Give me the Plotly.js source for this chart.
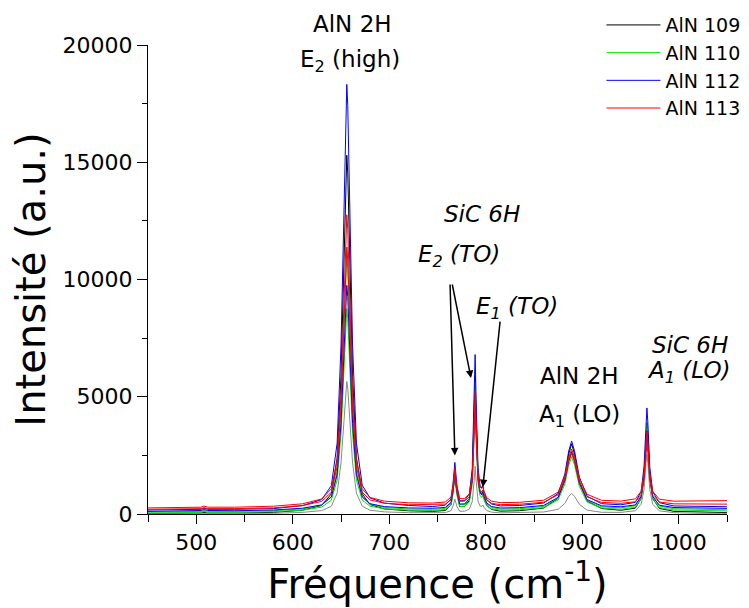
<!DOCTYPE html>
<html><head><meta charset="utf-8">
<script src="https://cdn.plot.ly/plotly-3.0.1.min.js"></script>
<style>html,body{margin:0;padding:0;background:#fff}</style>
</head><body><div id="chart" style="width:749px;height:608px"></div>
<script>
// Raman shift (cm-1)
const freq = [450,480,505,508,512,540,580,610,630,640,646,650,653,655,656,657,659,662,666,672,680,695,720,745,758,764,766,768,770,773,778,783,786,788,789,790,792,794,796,797,798,801,806,815,835,860,875,882,886,889,892,897,905,920,940,955,961,964,966,967,968,970,973,980,995,1020,1050];

const sampleNames = ['AlN 109','AlN 110','AlN 112','AlN 113'];

// intensities (a.u.), two spectra per sample
const aln109_a = [20,25,40,70,40,40,70,161,364,860,2380,5876,10740,14540,15300,14540,10740,5876,2380,860,404,217,136,112,148,386,930,1780,930,313,322,578,1530,4140,5880,4157,1585,914,813,920,697,364,195,121,141,254,670,1540,2555,2990,2555,1395,554,235,160,251,663,1613,3323,3893,3320,1610,660,237,112,77,60];
const aln109_b = [0,5,15,40,15,15,31,69,146,330,890,2178,3970,5370,5650,5370,3970,2178,890,330,162,90,57,47,59,143,335,635,335,117,119,207,535,1435,2035,1443,560,338,330,385,290,145,78,49,54,86,200,455,753,880,753,413,166,73,70,139,412,1037,2162,2537,2160,1036,411,134,58,30,30];
const aln110_a = [40,50,70,110,70,70,99,162,295,590,1450,3428,6180,8330,8760,8330,6180,3428,1450,590,332,219,166,153,186,382,830,1530,830,321,321,518,1255,3280,4630,3294,1300,783,715,805,625,355,221,162,179,268,600,1290,2095,2440,2095,1175,508,255,204,285,643,1468,2953,3448,2950,1466,641,274,170,145,130];
const aln110_b = [80,90,110,150,110,110,141,215,374,740,1820,4304,7760,10460,11000,10460,7760,4304,1820,740,416,276,212,197,234,458,970,1770,970,390,399,642,1545,4020,5670,4035,1595,955,850,945,740,435,278,209,225,320,680,1430,2305,2680,2305,1305,580,305,262,353,755,1680,3345,3900,3342,1678,753,341,225,196,180];
const aln112_a = [170,180,200,250,200,200,230,358,614,1210,3020,7160,12920,17420,18320,17420,12920,7160,3020,1230,690,464,364,318,376,642,1250,2200,1250,560,571,860,1925,4850,6800,4870,1985,1230,1110,1225,980,615,428,345,362,468,870,1710,2690,3110,2690,1570,758,440,392,496,952,2002,3892,4522,3892,2002,950,483,342,313,310];
const aln112_b = [110,120,150,190,150,140,170,247,391,725,1675,3860,6900,9275,9750,9275,6900,3860,1675,725,440,316,259,245,280,490,970,1720,970,425,430,650,1470,3720,5220,3735,1520,945,870,970,770,470,320,255,271,364,710,1430,2270,2630,2270,1310,614,350,306,386,744,1569,3054,3549,3052,1567,742,374,275,250,240];
const aln113_a = [260,270,290,340,290,290,332,434,641,1075,2305,5134,9070,12145,12760,12145,9070,5134,2305,1075,706,548,477,467,510,720,1200,1950,1200,654,654,864,1650,3810,5250,3825,1700,1151,1088,1190,992,694,547,484,499,588,930,1620,2425,2770,2425,1505,838,585,551,643,968,1718,3068,3518,3066,1716,966,632,547,554,570];
const aln113_b = [200,210,230,270,230,230,261,356,538,930,2030,4560,8080,10830,11380,10830,8080,4560,2030,930,600,458,393,394,422,604,1020,1670,1020,547,548,732,1420,3310,4570,3324,1465,987,937,1030,853,586,456,399,416,502,820,1480,2250,2580,2250,1370,732,490,456,521,803,1453,2623,3013,2620,1450,800,510,433,422,420];

const FONT = 'DejaVu Sans, Arial, sans-serif';

const groups = [
  {name: sampleNames[0], runs: [aln109_a, aln109_b], colors: ['#000000', '#8a8a8a']},
  {name: sampleNames[1], runs: [aln110_a, aln110_b], colors: ['#00e400', '#00e400']},
  {name: sampleNames[2], runs: [aln112_a, aln112_b], colors: ['#0000ff', '#0000ff']},
  {name: sampleNames[3], runs: [aln113_a, aln113_b], colors: ['#ff0000', '#ff0000']}
];

const traces = [];
groups.forEach((g, gi) => {
  g.runs.forEach((y, ri) => {
    traces.push({
      type: 'scatter', mode: 'lines', x: freq, y: y,
      name: g.name, legendgroup: g.name, showlegend: ri === 0,
      line: {color: g.colors[ri], width: 1}
    });
  });
});

const ann = (x, y, text, size) => ({
  x: x, y: y, xref: 'paper', yref: 'paper', text: text, showarrow: false,
  xanchor: 'center', yanchor: 'middle', font: {size: size, color: 'black', family: FONT}
});

const arrow = (x, y, ax, ay) => ({
  x: x, y: y, ax: ax, ay: ay, xref: 'x', yref: 'y', axref: 'x', ayref: 'y',
  text: '', showarrow: true, arrowhead: 2, arrowsize: 1, arrowwidth: 1.5,
  arrowcolor: 'black', standoff: 0, startstandoff: 0
});

const layout = {
  width: 749, height: 608,
  margin: {l: 148, r: 22, t: 45, b: 94, autoexpand: false},
  paper_bgcolor: 'white', plot_bgcolor: 'white',
  font: {family: FONT, color: 'black'},
  showlegend: true,
  legend: {
    xref: 'container', yref: 'container', x: 0.803, y: 0.990,
    xanchor: 'left', yanchor: 'top', font: {size: 19, family: FONT},
    traceorder: 'grouped', tracegroupgap: 0, itemwidth: 54,
    bgcolor: 'rgba(0,0,0,0)'
  },
  xaxis: {
    range: [450, 1050], showline: true, linecolor: 'black', linewidth: 1,
    ticks: 'outside', ticklen: 9, tickwidth: 1, tickcolor: 'black',
    tick0: 0, dtick: 100, tickformat: 'd', tickfont: {size: 22}, showgrid: false, zeroline: false,
    minor: {tick0: 0, dtick: 50, ticks: 'outside', ticklen: 7, tickcolor: 'black', showgrid: false},
    title: {text: 'Fréquence (cm<sup>-1</sup>)', font: {size: 40}, standoff: 4}
  },
  yaxis: {
    range: [0, 20000], showline: true, linecolor: 'black', linewidth: 1,
    ticks: 'outside', ticklen: 10, tickwidth: 1, tickcolor: 'black',
    tick0: 0, dtick: 5000, tickformat: 'd', tickfont: {size: 22},
    showgrid: false, zeroline: false,
    minor: {tick0: 0, dtick: 2500, ticks: 'outside', ticklen: 5, tickcolor: 'black', showgrid: false},
    title: {text: 'Intensité (a.u.)', font: {size: 40}, standoff: 4}
  },
  annotations: [
    ann(0.353, 1.0458, 'AlN 2H', 23),
    ann(0.349, 0.966, 'E<sub>2</sub> (high)', 23),
    ann(0.577, 0.6407, '<i>SiC 6H</i>', 23),
    ann(0.537, 0.550, '<i>E<sub>2</sub> (TO)</i>', 23),
    ann(0.637, 0.439, '<i>E<sub>1</sub> (TO)</i>', 23),
    ann(0.746, 0.2932, 'AlN 2H', 23),
    ann(0.746, 0.210, 'A<sub>1</sub> (LO)', 23),
    ann(0.936, 0.3614, '<i>SiC 6H</i>', 23),
    ann(0.934, 0.302, '<i>A<sub>1</sub> (LO)</i>', 23),
    arrow(768, 2500, 763, 9850),
    arrow(784.7, 5800, 765, 9850),
    arrow(797, 1150, 815, 8270)
  ]
};

Plotly.newPlot('chart', traces, layout, {displayModeBar: false, staticPlot: true});
</script>
</body></html>
